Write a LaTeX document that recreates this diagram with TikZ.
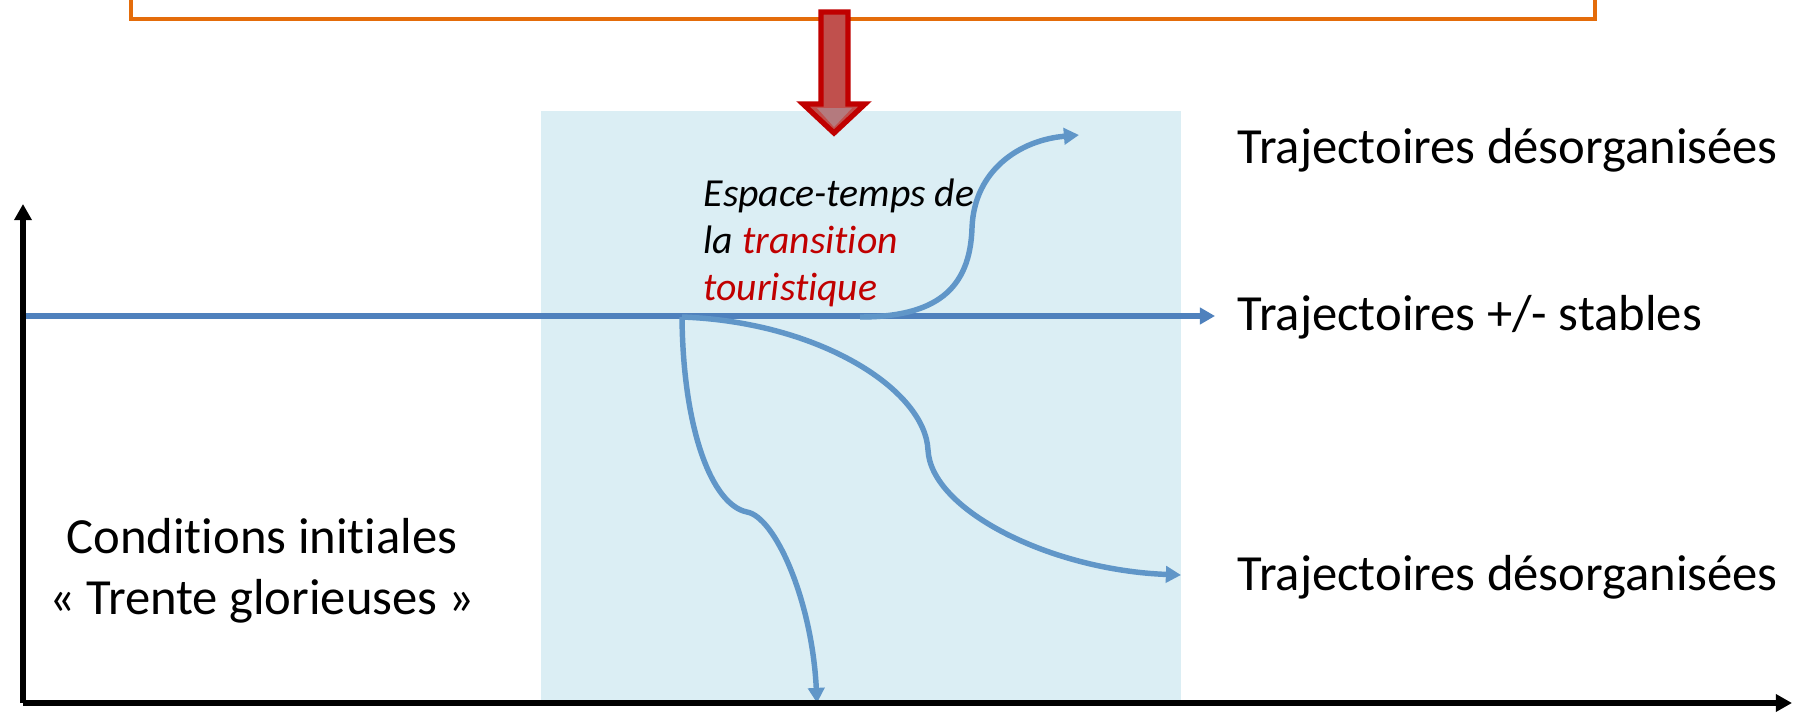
\documentclass[tikz,border=0pt]{standalone}
\usepackage{fontspec}
\setmainfont{Carlito}[Ligatures=NoCommon]
\usetikzlibrary{arrows.meta}
\definecolor{trajblue}{HTML}{4F81BD}
\definecolor{branchblue}{HTML}{6096C8}
\definecolor{zoneblue}{HTML}{DBEEF4}
\definecolor{boxorange}{HTML}{E46C0A}
\definecolor{arrowdark}{HTML}{C00000}
\definecolor{arrowfill}{HTML}{C0504D}
\definecolor{arrowlight}{HTML}{B47A7E}
\definecolor{transred}{HTML}{C00000}
\begin{document}
\begin{tikzpicture}[x=0.01cm,y=-0.01cm,
  axisline/.style={line width=1.7pt, black, -{Triangle[length=4.6pt,width=4.8pt]}},
  trajline/.style={line width=1.6pt, trajblue, -{Triangle[length=4.3pt,width=4.6pt]}},
  branchline/.style={line width=1.55pt, branchblue, -{Triangle[length=4.3pt,width=4.6pt]}},
  bigtext/.style={font=\fontsize{14.4pt}{17.35pt}\selectfont, inner sep=0pt},
  italtext/.style={font=\fontsize{11.3pt}{13.4pt}\selectfont\itshape, inner sep=0pt, align=left},
  zone/.style={fill=zoneblue, draw=none},
  topbox/.style={draw=boxorange, line width=0.9pt},
  bigarrow/.style={fill=arrowfill, draw=arrowdark, line width=1.5pt, line join=miter}]
\clip (0,0) rectangle (1794,712);
\fill[white] (0,0) rectangle (1794,712);

% orange box (cut off by top edge)
\draw[topbox] (131,-40) rectangle (1595,19);

% transition zone
\fill[zone] (541,111) rectangle (1181,703);

% red arrow
\draw[bigarrow] (821,12) -- (848,12) -- (848,104) -- (865,104) -- (834,133)
  -- (803,104) -- (821,104) -- cycle;
\fill[arrowlight] (817,108) -- (852,108) -- (834,127) -- cycle;

% coordinates
\coordinate (origin) at (23,703);
\coordinate (ytip) at (23,204);
\coordinate (xtip) at (1792,703);
\coordinate (start) at (26,316);
\coordinate (stabletip) at (1215,316);
\coordinate (forkA) at (682,317);
\coordinate (forkB) at (860,317);
\coordinate (uptip) at (1079,135);
\coordinate (downtip) at (817,703);
\coordinate (midtip) at (1181,575);

% trajectories
\draw[trajline] (start) -- (stabletip);
\draw[branchline] (forkB) .. controls (935,317) and (970,290) .. (972,228)
  .. controls (974,170) and (1020,140) .. (uptip);
\draw[branchline] (forkA) .. controls (683,430) and (712,505) .. (747,512)
  .. controls (775,517) and (812,600) .. (downtip);
\draw[branchline] (forkA) .. controls (820,322) and (925,390) .. (928,450)
  .. controls (931,510) and (1050,570) .. (midtip);

% axes
\draw[axisline] (origin) -- (ytip);
\draw[axisline] (origin) -- (xtip);

% texts
\node[italtext, anchor=north west] (espace) at (703,178)
  {Espace-temps de\\la \textcolor{transred}{transition}\\\textcolor{transred}{touristique}};
\node[bigtext, anchor=base west] (desorgtop) at (1237,163) {Trajectoires désorganisées};
\node[bigtext, anchor=base west] (stables) at (1237,330) {Trajectoires +/- stables};
\node[bigtext, anchor=base west] (desorgbot) at (1237,590) {Trajectoires désorganisées};
\node[bigtext, align=center, anchor=north] (conditions) at (262,518)
  {Conditions initiales\\« Trente glorieuses »};
\end{tikzpicture}
\end{document}
